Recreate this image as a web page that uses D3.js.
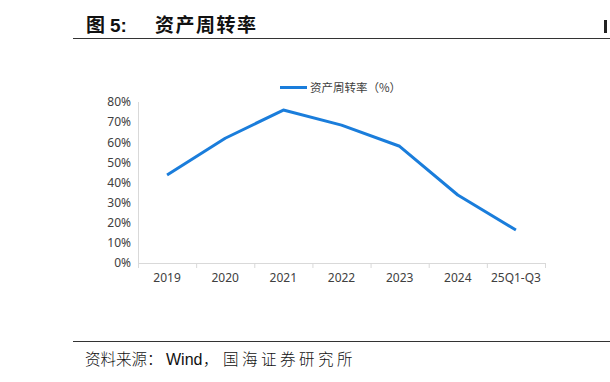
<!DOCTYPE html>
<html>
<head>
<meta charset="utf-8">
<script src="https://d3js.org/d3.v7.min.js"></script>
<style>
    body { margin: 0; background: #fff; }
    .axis text { font-family: "Noto Sans", "Noto Sans CJK SC", sans-serif; font-size: 12px; fill: #404040; }
    .axis path, .axis line { stroke: #d9d9d9; }
</style>
</head>
<body>
<script>
    var categories = ["2019", "2020", "2021", "2022", "2023", "2024", "25Q1-Q3"];
    var turnover = [43.7, 62.0, 76.0, 68.5, 58.0, 33.8, 16.4];
    var yTicks = [0, 10, 20, 30, 40, 50, 60, 70, 80];
    var seriesName = "资产周转率（%）";

    var svgWidth = 610, svgHeight = 382;
    var svg = d3.select("body").append("svg")
        .attr("width", svgWidth)
        .attr("height", svgHeight);

    var cjk = "'Noto Sans CJK SC', sans-serif";

    // header
    svg.append("text").attr("x", 86).attr("y", 32)
        .attr("font-family", cjk).attr("font-size", 19).attr("font-weight", "bold")
        .attr("fill", "#111").text("图");
    svg.append("text").attr("x", 110).attr("y", 32)
        .attr("font-family", "'Liberation Sans', Arial, sans-serif").attr("font-size", 19).attr("font-weight", "bold")
        .attr("fill", "#111").text("5:");
    svg.append("text").attr("x", 155).attr("y", 32)
        .attr("font-family", cjk).attr("font-size", 19).attr("font-weight", "bold")
        .attr("letter-spacing", 1.5)
        .attr("fill", "#111").text("资产周转率");
    svg.append("line").attr("x1", 73).attr("x2", 610).attr("y1", 38.5).attr("y2", 38.5)
        .attr("stroke", "#333").attr("stroke-width", 1.2);
    svg.append("rect").attr("x", 604).attr("y", 20).attr("width", 3).attr("height", 13).attr("fill", "#222");

    // footer
    svg.append("line").attr("x1", 73).attr("x2", 610).attr("y1", 341.5).attr("y2", 341.5)
        .attr("stroke", "#333").attr("stroke-width", 1.2);
    svg.append("text").attr("x", 85).attr("y", 365)
        .attr("font-family", cjk).attr("font-size", 15.5).attr("font-weight", 300)
        .attr("fill", "#111").text("资料来源：");
    svg.append("text").attr("x", 166).attr("y", 365)
        .attr("font-family", "'Liberation Sans', Arial, sans-serif").attr("font-size", 16)
        .attr("fill", "#111").text("Wind");
    svg.append("text").attr("x", 203).attr("y", 365)
        .attr("font-family", cjk).attr("font-size", 15.5).attr("font-weight", 300)
        .attr("fill", "#111").text("，");
    svg.append("text").attr("x", 223).attr("y", 365)
        .attr("font-family", cjk).attr("font-size", 15.5).attr("font-weight", 300)
        .attr("letter-spacing", 3.5)
        .attr("fill", "#111").text("国海证券研究所");

    var margin = { left: 138, right: 65, top: 102, bottom: 119 };
    var width = svgWidth - margin.left - margin.right,
        height = svgHeight - margin.top - margin.bottom;

    var x = d3.scaleBand().domain(categories).range([0, width]);
    var y = d3.scaleLinear().domain([0, 80]).range([height, 0]);

    var g = svg.append("g").attr("transform", "translate(" + margin.left + "," + margin.top + ")");

    g.append("g")
        .attr("class", "axis")
        .call(d3.axisLeft(y).tickValues(yTicks).tickFormat(function (d) { return d + "%"; }).tickSize(0).tickPadding(7))
        .call(function (a) { a.select(".domain").remove(); });

    g.append("line").attr("x1", 0.5).attr("x2", 0.5).attr("y1", 0).attr("y2", height)
        .attr("stroke", "#d9d9d9");

    var xAxis = g.append("g")
        .attr("class", "axis")
        .attr("transform", "translate(0," + height + ")")
        .call(d3.axisBottom(x).tickSize(0).tickPadding(10));

    xAxis.selectAll(".sep")
        .data(d3.range(categories.length + 1))
        .enter().append("line")
        .attr("x1", function (i) { return i * x.step() + 0.5; })
        .attr("x2", function (i) { return i * x.step() + 0.5; })
        .attr("y1", 0).attr("y2", 5)
        .attr("stroke", "#d9d9d9");

    var line = d3.line()
        .x(function (d, i) { return x(categories[i]) + x.bandwidth() / 2; })
        .y(function (d) { return y(d); });

    g.append("path")
        .datum(turnover)
        .attr("fill", "none")
        .attr("stroke", "#1a7ddb")
        .attr("stroke-width", 3)
        .attr("stroke-linejoin", "round")
        .attr("d", line);

    // legend
    svg.append("line").attr("x1", 280).attr("x2", 307).attr("y1", 87.5).attr("y2", 87.5)
        .attr("stroke", "#1a7ddb").attr("stroke-width", 3);
    svg.append("text").attr("x", 310).attr("y", 92)
        .attr("font-family", cjk).attr("font-size", 11.5)
        .attr("fill", "#404040").text(seriesName);
</script>
</body>
</html>
